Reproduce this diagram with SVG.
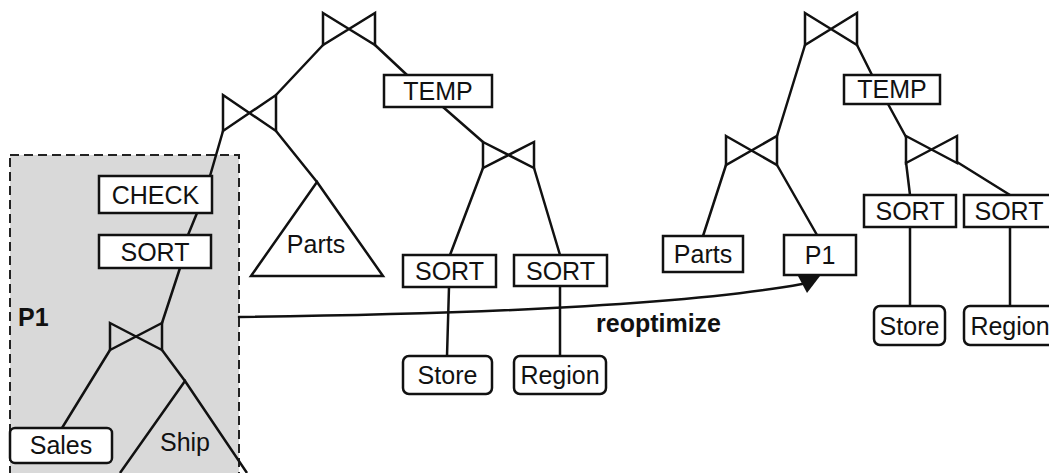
<svg xmlns="http://www.w3.org/2000/svg" width="1049" height="473" viewBox="0 0 1049 473">
<style>
.ln{fill:none;stroke:#111;stroke-width:2.5;stroke-linecap:round}
.bt{fill:none;stroke:#111;stroke-width:2.5;stroke-linejoin:miter}
.bx{fill:#fff;stroke:#111;stroke-width:2.5}
.tri{fill:none;stroke:#111;stroke-width:2.5;stroke-linejoin:miter}
.t{font-family:"Liberation Sans",Arial,sans-serif;font-size:25px;fill:#111;text-anchor:middle}
.b{font-family:"Liberation Sans",Arial,sans-serif;font-size:25px;font-weight:bold;fill:#111}
</style>
<rect width="1049" height="473" fill="#fff"/>
<g id="P1-region">
<rect x="10" y="155" width="229" height="330" fill="#d9d9d9" stroke="#222" stroke-width="2" stroke-dasharray="9 5"/>
<text class="b" x="18" y="326">P1</text>
</g>
<g id="connectors">
<path class="ln" d="M323,45 L276,95"/>
<path class="ln" d="M223,131 L210,176"/>
<path class="ln" d="M276,131 L317,182"/>
<path class="ln" d="M197,213 L188,235"/>
<path class="ln" d="M180,268 L162,323"/>
<path class="ln" d="M110,350 L62,428"/>
<path class="ln" d="M162,350 L185,381"/>
<path class="ln" d="M375,45 L407,75"/>
<path class="ln" d="M443,107 L483,142"/>
<path class="ln" d="M483,168 L450,255"/>
<path class="ln" d="M534,168 L560,255"/>
<path class="ln" d="M449,287 L447,356"/>
<path class="ln" d="M560,286 L560,356"/>
<path class="ln" d="M805,45 L777,136"/>
<path class="ln" d="M857,45 L872,75"/>
<path class="ln" d="M888,104 L906,137"/>
<path class="ln" d="M726,165 L703,236"/>
<path class="ln" d="M777,165 L817,235"/>
<path class="ln" d="M906,162 L910,195"/>
<path class="ln" d="M957,162 L1010,195"/>
<path class="ln" d="M910,227 L910,306"/>
<path class="ln" d="M1010,227 L1010,306"/>
<path class="ln" d="M239,317 Q650,312 802,284"/>
<polygon points="798,276 820,276 807,293" fill="#111"/>
<text class="b" x="596" y="332">reoptimize</text>
</g>
<g id="join-root-left"><path class="bt" d="M323,13 L375,45 L375,13 L323,45 Z"/></g>
<g id="join-mid-left"><path class="bt" d="M223,95 L276,131 L276,95 L223,131 Z"/></g>
<g id="join-p1"><path class="bt" d="M110,323 L162,350 L162,323 L110,350 Z"/></g>
<g id="join-temp-left"><path class="bt" d="M483,142 L534,168 L534,142 L483,168 Z"/></g>
<g id="join-root-right"><path class="bt" d="M805,13 L857,45 L857,13 L805,45 Z"/></g>
<g id="join-right-a"><path class="bt" d="M726,136 L777,165 L777,136 L726,165 Z"/></g>
<g id="join-right-b"><path class="bt" d="M906,136 L957,163 L957,136 L906,163 Z"/></g>
<g id="node-check"><rect class="bx" x="99" y="176" width="113" height="37"/><text class="t" x="155.5" y="203.5">CHECK</text></g>
<g id="node-sort-p1"><rect class="bx" x="99" y="235" width="112" height="33"/><text class="t" x="155" y="260.5">SORT</text></g>
<g id="node-parts-tri"><polygon class="tri" points="317,182 251,276 383,276" fill="#fff"/><text class="t" x="316" y="253">Parts</text></g>
<g id="node-sales"><rect class="bx" x="10" y="428" width="102" height="35" rx="5"/><text class="t" x="61" y="454">Sales</text></g>
<g id="node-ship-tri"><path class="tri" d="M120,473 L185,381 L247,473"/><text class="t" x="185" y="451">Ship</text></g>
<g id="node-temp-left"><rect class="bx" x="384" y="75" width="108" height="32"/><text class="t" x="438" y="100">TEMP</text></g>
<g id="node-sort-store-left"><rect class="bx" x="403" y="255" width="93" height="32"/><text class="t" x="449.5" y="280">SORT</text></g>
<g id="node-sort-region-left"><rect class="bx" x="514" y="255" width="93" height="31"/><text class="t" x="560.5" y="280">SORT</text></g>
<g id="node-store-left"><rect class="bx" x="403" y="356" width="89" height="38" rx="6"/><text class="t" x="447.5" y="384">Store</text></g>
<g id="node-region-left"><rect class="bx" x="514" y="356" width="92" height="38" rx="6"/><text class="t" x="560" y="384">Region</text></g>
<g id="node-temp-right"><rect class="bx" x="844" y="75" width="96" height="29"/><text class="t" x="892" y="98">TEMP</text></g>
<g id="node-parts-right"><rect class="bx" x="663" y="236" width="80" height="36"/><text class="t" x="703" y="263">Parts</text></g>
<g id="node-p1-right"><rect class="bx" x="784" y="235" width="72" height="40"/><text class="t" x="820" y="264">P1</text></g>
<g id="node-sort-store-right"><rect class="bx" x="864" y="195" width="92" height="32"/><text class="t" x="910" y="220">SORT</text></g>
<g id="node-sort-region-right"><rect class="bx" x="964" y="195" width="92" height="32"/><text class="t" x="1009" y="220">SORT</text></g>
<g id="node-store-right"><rect class="bx" x="874" y="306" width="71" height="39" rx="6"/><text class="t" x="909.5" y="335">Store</text></g>
<g id="node-region-right"><rect class="bx" x="964" y="306" width="95" height="39" rx="6"/><text class="t" x="1010" y="335">Region</text></g>
</svg>
